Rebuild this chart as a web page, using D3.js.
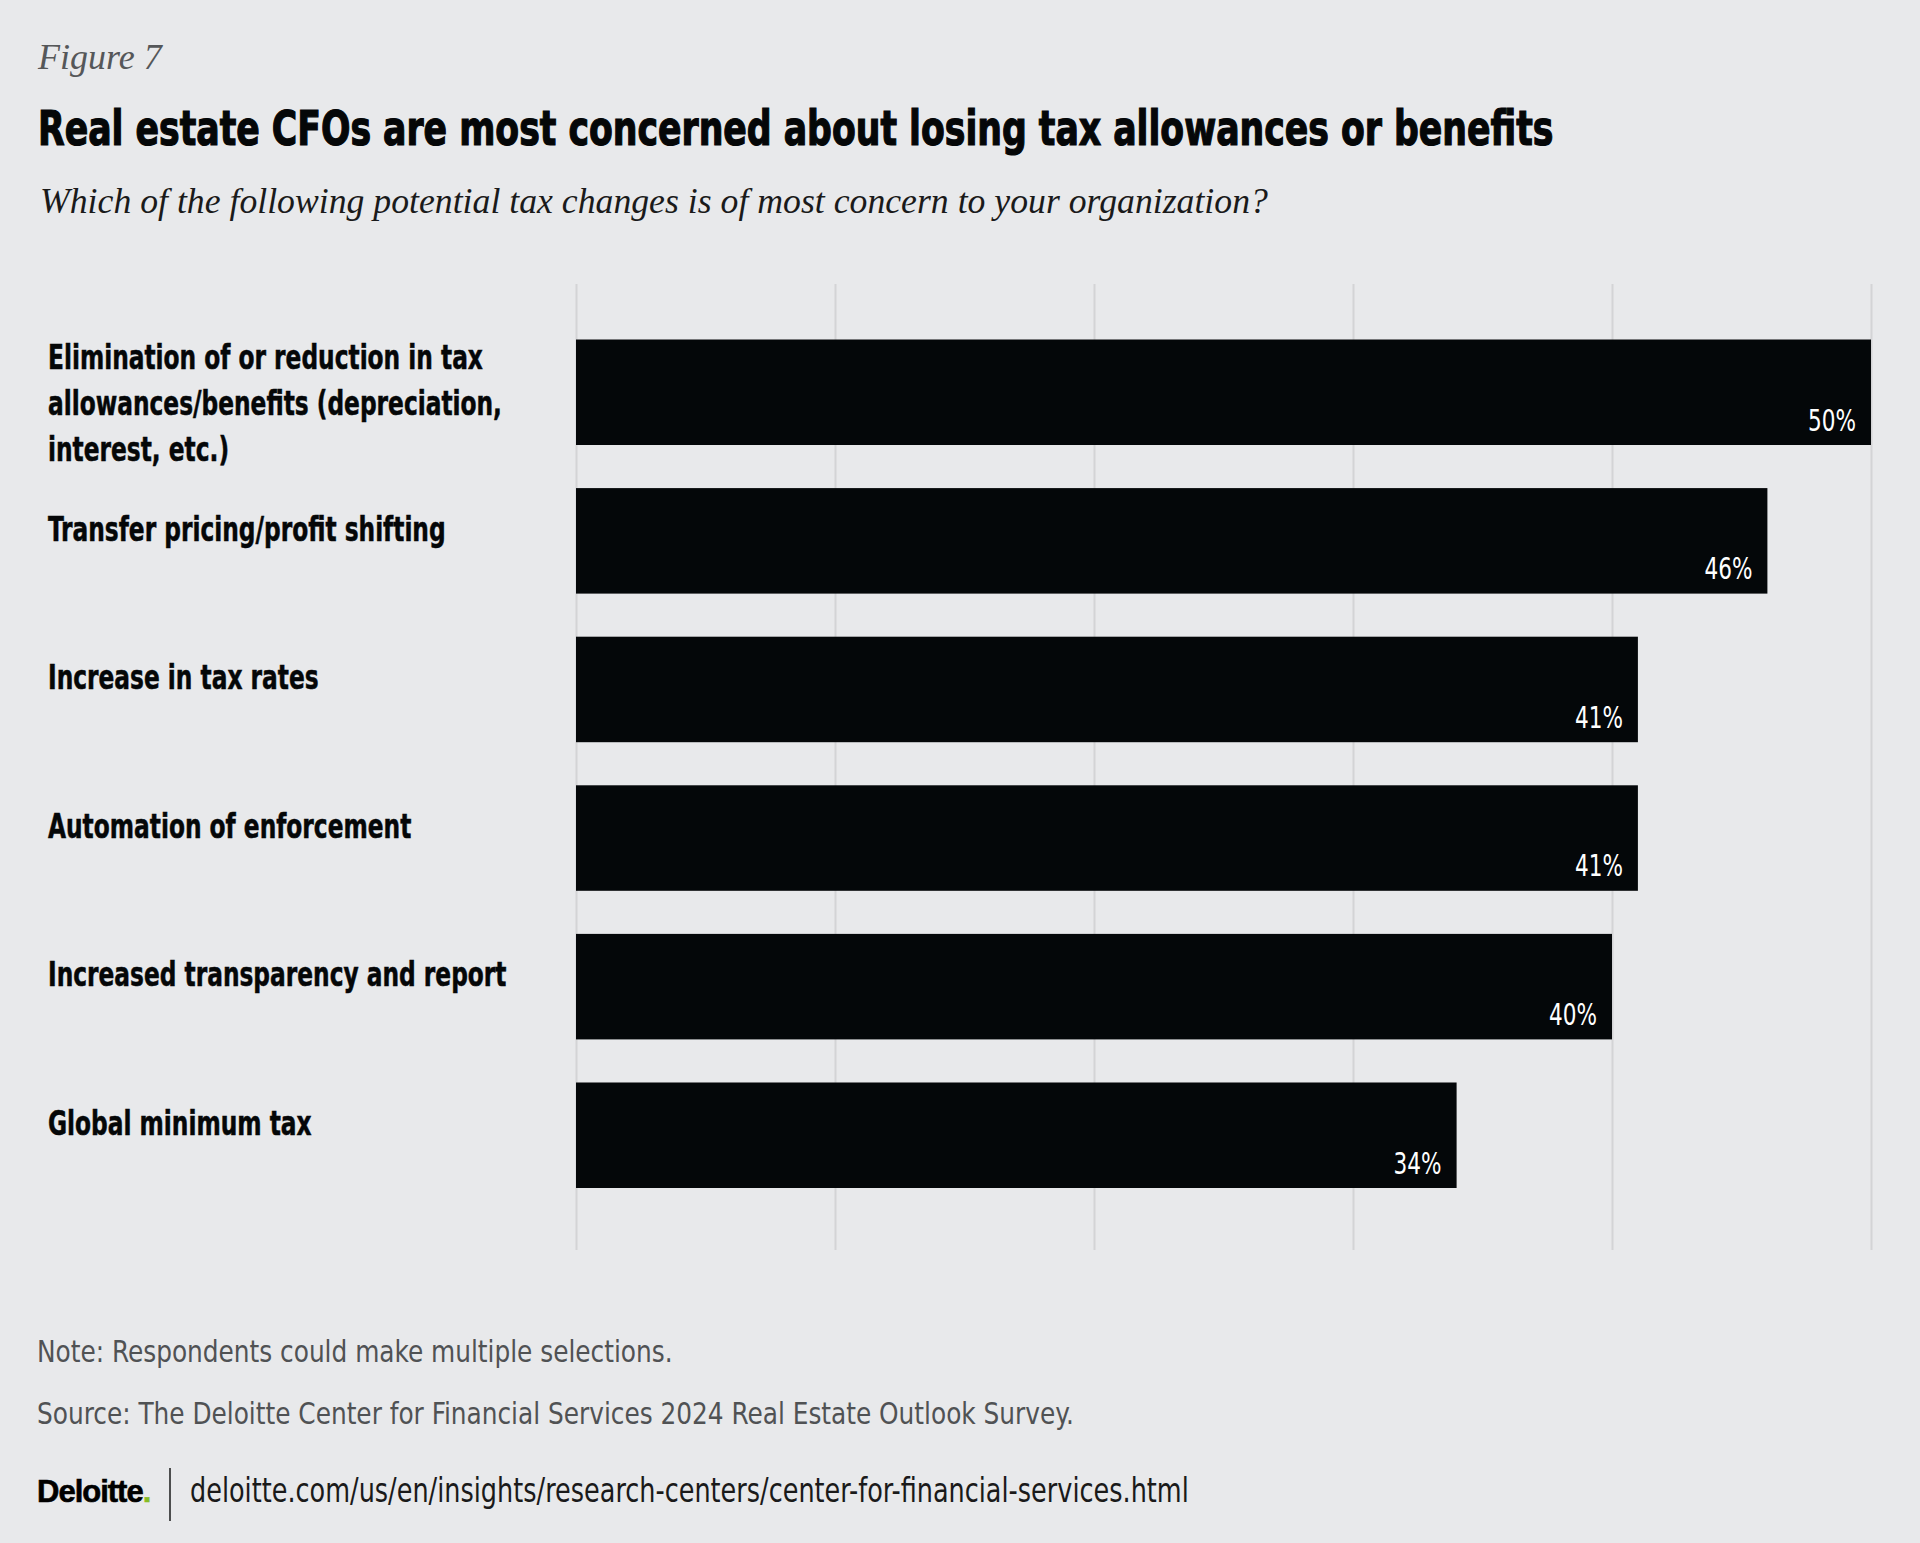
<!DOCTYPE html>
<html>
<head>
<meta charset="utf-8">
<script src="https://cdn.jsdelivr.net/npm/d3@7"></script>
<style>
  body { margin: 0; background: #e8e9eb; }
  svg { display: block; }
</style>
</head>
<body>
<div id="wrapper"></div>
<script>
const categories = [
    ['Elimination of or reduction in tax', 'allowances/benefits (depreciation,', 'interest, etc.)'],
    ['Transfer pricing/profit shifting'],
    ['Increase in tax rates'],
    ['Automation of enforcement'],
    ['Increased transparency and report'],
    ['Global minimum tax']
];
const values = [50, 46, 41, 41, 40, 34];
const xTicks = [0, 10, 20, 30, 40, 50];

const figureLabel = 'Figure 7';
const titleText = 'Real estate CFOs are most concerned about losing tax allowances or benefits';
const subtitleText = 'Which of the following potential tax changes is of most concern to your organization?';
const noteText = 'Note: Respondents could make multiple selections.';
const sourceText = 'Source: The Deloitte Center for Financial Services 2024 Real Estate Outlook Survey.';
const urlText = 'deloitte.com/us/en/insights/research-centers/center-for-financial-services.html';

const condensed = '"Liberation Sans Narrow", "DejaVu Sans Condensed", "Roboto Condensed", sans-serif';
const serif = '"Liberation Serif", "DejaVu Serif", serif';

// the installed condensed face is wider than the original one, squeeze it
const labelSqueeze = 0.785;
const valueSqueeze = 0.8;
const footSqueeze = 0.89;

const dimensions = {
    width: 1920,
    height: 1543,
    chartLeft: 576,
    chartRight: 1871,
    gridTop: 284,
    gridBottom: 1250,
    barsTop: 339.5,
    barsBottom: 1188
};

const svg = d3.select('#wrapper')
    .append('svg')
    .attr('width', dimensions.width)
    .attr('height', dimensions.height);

svg.append('rect')
    .attr('width', dimensions.width)
    .attr('height', dimensions.height)
    .attr('fill', '#e8e9eb');

// squeeze a text horizontally so that it spans the given width
function fitWidth(sel, x, y, targetWidth) {
    const natural = sel.node().getComputedTextLength();
    sel.attr('transform', `translate(${x},${y}) scale(${targetWidth / natural},1)`);
}

// header
svg.append('text')
    .attr('x', 38)
    .attr('y', 69)
    .attr('fill', '#555759')
    .style('font-family', serif)
    .style('font-style', 'italic')
    .style('font-size', '36px')
    .text(figureLabel);

const title = svg.append('text')
    .attr('fill', '#050708')
    .attr('stroke', '#050708')
    .attr('stroke-width', 1.2)
    .style('font-family', condensed)
    .style('font-weight', 'bold')
    .style('font-size', '48px')
    .text(titleText);
fitWidth(title, 38, 145, 1516);

const subTitle = svg.append('text')
    .attr('fill', '#1a1a1a')
    .style('font-family', serif)
    .style('font-style', 'italic')
    .style('font-size', '35px')
    .text(subtitleText);
fitWidth(subTitle, 40, 213, 1228);

// scales
const xScale = d3.scaleLinear()
    .domain([0, 50])
    .range([dimensions.chartLeft, dimensions.chartRight]);

const yScale = d3.scaleBand()
    .domain(d3.range(values.length))
    .range([dimensions.barsTop, dimensions.barsBottom])
    .paddingInner(0.29)
    .paddingOuter(0);

// gridlines
const xAxisGenerator = d3.axisTop(xScale)
    .tickValues(xTicks)
    .tickSize(-(dimensions.gridBottom - dimensions.gridTop))
    .tickFormat('');

const xAxis = svg.append('g')
    .attr('transform', `translate(0,${dimensions.gridTop})`)
    .call(xAxisGenerator);
xAxis.select('.domain').remove();
xAxis.selectAll('line')
    .attr('stroke', '#d3d4d6')
    .attr('stroke-width', 2);

// bars
svg.selectAll('rect.bar')
    .data(values)
    .enter()
    .append('rect')
    .attr('class', 'bar')
    .attr('x', xScale(0))
    .attr('y', (d, i) => yScale(i))
    .attr('width', d => xScale(d) - xScale(0))
    .attr('height', yScale.bandwidth())
    .attr('fill', '#040709');

// value labels
svg.selectAll('text.value')
    .data(values)
    .enter()
    .append('text')
    .attr('class', 'value')
    .attr('transform', (d, i) => `translate(${xScale(d) - 15},${yScale(i) + yScale.bandwidth() - 14.5}) scale(${valueSqueeze},1)`)
    .attr('text-anchor', 'end')
    .attr('fill', '#ffffff')
    .style('font-family', condensed)
    .style('font-size', '30px')
    .text(d => d + '%');

// category labels
const lineHeight = 46;
const labels = svg.selectAll('text.category')
    .data(categories)
    .enter()
    .append('text')
    .attr('class', 'category')
    .attr('fill', '#050708')
    .attr('stroke', '#050708')
    .attr('stroke-width', 0.5)
    .style('font-family', condensed)
    .style('font-weight', 'bold')
    .style('font-size', '33px')
    .attr('transform', (d, i) => `translate(48,${yScale(i) + 52.5 - (d.length - 1) * 11.5}) scale(${labelSqueeze},1)`);

labels.selectAll('tspan')
    .data(d => d)
    .enter()
    .append('tspan')
    .attr('x', 0)
    .attr('dy', (d, i) => i === 0 ? 0 : lineHeight)
    .text(d => d);

// footer
svg.append('text')
    .attr('transform', `translate(37,1362) scale(${footSqueeze},1)`)
    .attr('fill', '#505254')
    .style('font-family', condensed)
    .style('font-size', '31px')
    .text(noteText);

svg.append('text')
    .attr('transform', `translate(37,1424) scale(${footSqueeze},1)`)
    .attr('fill', '#505254')
    .style('font-family', condensed)
    .style('font-size', '31px')
    .text(sourceText);

const logo = svg.append('text')
    .attr('x', 37)
    .attr('y', 1502)
    .attr('fill', '#000000')
    .attr('stroke', '#000000')
    .attr('stroke-width', 0.6)
    .style('font-family', '"Liberation Sans", Arial, sans-serif')
    .style('font-weight', 'bold')
    .style('font-size', '31px')
    .style('letter-spacing', '-1px');
logo.append('tspan').text('Deloitte');
logo.append('tspan').attr('fill', '#86bc25').attr('stroke', '#86bc25').text('.');

svg.append('line')
    .attr('x1', 170)
    .attr('x2', 170)
    .attr('y1', 1468)
    .attr('y2', 1521)
    .attr('stroke', '#1a1a1a')
    .attr('stroke-width', 1.5);

svg.append('text')
    .attr('transform', `translate(190,1502) scale(0.86,1)`)
    .attr('fill', '#1a1a1a')
    .style('font-family', condensed)
    .style('font-size', '33px')
    .text(urlText);
</script>
</body>
</html>
